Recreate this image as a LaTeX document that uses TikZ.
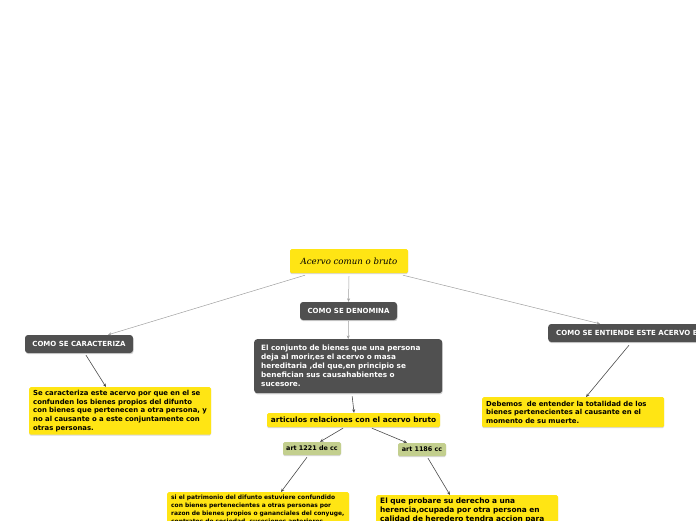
\documentclass[tikz,border=0pt]{standalone}
\usepackage{fontspec}
\setmainfont{DejaVu Sans}
\newfontfamily\rootfont{DejaVu Serif}
\usetikzlibrary{arrows.meta,calc,shadows}
\definecolor{ybox}{HTML}{FFE514}
\definecolor{dbox}{HTML}{505050}
\definecolor{gbox}{HTML}{C3CF8E}
\definecolor{lgray}{HTML}{A0A0A0}
\definecolor{dgray}{HTML}{4A4A4A}
\tikzset{
  darkbox/.style={fill=dbox, rounded corners=3pt, text=white, font=\bfseries\fontsize{7}{9}\selectfont,
    drop shadow={shadow xshift=0.6pt, shadow yshift=-1.2pt, opacity=0.35}},
  yelbox/.style={fill=ybox, rounded corners=1.5pt, text=black,
    drop shadow={shadow xshift=0pt, shadow yshift=-1pt, opacity=0.3}},
  grnbox/.style={fill=gbox, rounded corners=1.5pt, text=black, font=\bfseries\fontsize{6.4}{7}\selectfont,
    drop shadow={shadow xshift=0pt, shadow yshift=-1pt, opacity=0.3}},
  lconn/.style={draw=lgray, line width=0.5pt, -{Stealth[length=3.5pt,width=3pt]}},
  dconn/.style={draw=dgray, line width=0.6pt, -{Stealth[length=3.5pt,width=3pt]}},
}
\begin{document}
\begin{tikzpicture}[x=1pt,y=-1pt]
\useasboundingbox (0,0) rectangle (696,520);
\clip (0,0) rectangle (696,520);

% root
\node[yelbox, minimum width=118pt, minimum height=24pt, inner sep=0pt,
  font=\rootfont\itshape\fontsize{8.6}{10}\selectfont] (root) at (349,261) {Acervo comun o bruto};

% headings
\node[darkbox, minimum width=97pt, minimum height=18pt, inner sep=0pt] (den) at (348.5,311) {COMO SE DENOMINA};
\node[darkbox, minimum width=108pt, minimum height=18pt, inner sep=0pt] (car) at (79,344) {COMO SE CARACTERIZA};
\node[darkbox, anchor=west, minimum height=18pt, inner xsep=8pt, inner ysep=0pt] (ent) at (548,333) {COMO SE ENTIENDE ESTE ACERVO BRUTO};

% definition
\node[darkbox, anchor=north west, text width=174pt, align=left, inner xsep=7pt, inner ysep=4pt,
  minimum height=54pt, font=\bfseries\fontsize{7.3}{9}\selectfont] (def) at (254,339)
  {El conjunto de bienes que una persona\\deja al morir,es el acervo o masa\\hereditaria ,del que,en principio se\\benefician sus causahabientes o\\sucesore.};

% caracteriza text
\node[yelbox, anchor=north west, text width=174pt, align=left, inner xsep=4pt, inner ysep=3pt,
  minimum height=47pt, font=\bfseries\fontsize{6.9}{8.7}\selectfont] (cart) at (29,387)
  {Se caracteriza este acervo por que en el se\\confunden los bienes propios del difunto\\con bienes que pertenecen a otra persona, y\\no al causante o a este conjuntamente con\\otras personas.};

% entiende text
\node[yelbox, anchor=north west, text width=174pt, align=left, inner xsep=4pt, inner ysep=3pt,
  minimum height=30pt, font=\bfseries\fontsize{6.9}{8.5}\selectfont] (entt) at (482,397)
  {Debemos\ \ de entender la totalidad de los\\bienes pertenecientes al causante en el\\momento de su muerte.};

% articulos
\node[yelbox, minimum width=173pt, minimum height=14pt, inner sep=0pt,
  font=\bfseries\fontsize{7.4}{8}\selectfont] (art) at (353.5,420) {articulos relaciones con el acervo bruto};

% green
\node[grnbox, minimum width=58pt, minimum height=13pt, inner sep=0pt] (a1221) at (312,448.5) {art 1221 de cc};
\node[grnbox, minimum width=48pt, minimum height=13pt, inner sep=0pt] (a1186) at (422,449.5) {art 1186 cc};

% bottom texts
\node[yelbox, anchor=north west, text width=174pt, align=left, inner xsep=4pt, inner ysep=2.5pt,
  font=\bfseries\fontsize{5.95}{8}\selectfont] (t1221) at (167,492)
  {si el patrimonio del difunto estuviere confundido\\con bienes pertenecientes a otras personas por\\razon de bienes propios o gananciales del conyuge,\\contratos de sociedad, sucesiones anteriores};
\node[yelbox, anchor=north west, text width=174pt, align=left, inner xsep=4pt, inner ysep=3pt,
  font=\bfseries\fontsize{7.4}{9}\selectfont] (t1186) at (376,495)
  {El que probare su derecho a una\\herencia,ocupada por otra persona en\\calidad de heredero tendra accion para};

% connectors
\draw[lconn] ($(root.south)+(-44,2)$) -- ($(car.north)+(29,0)$);
\draw[lconn] ($(root.south)+(0,3)$) -- (den.north);
\draw[lconn] ($(root.south)+(54,2)$) -- ($(ent.north west)+(52,0)$);
\draw[lconn] ($(den.south)+(0,1)$) -- ($(def.north)+(0,0)$);
\draw[dconn] ($(car.south)+(7,2)$) -- ($(cart.north west)+(77,0)$);
\draw[dconn] ($(ent.south west)+(81,3)$) -- ($(entt.north west)+(104,0)$);
\draw[dconn] ($(def.south)+(4,3)$) -- ($(art.north)+(0.5,0)$);
\draw[dconn] ($(art.south)+(-10.5,1)$) -- ($(a1221.north)+(8,0)$);
\draw[dconn] ($(art.south)+(18.5,1)$) -- ($(a1186.north)+(-15,0)$);
\draw[dconn] ($(a1221.south)+(-5,2)$) -- ($(t1221.north west)+(114,0)$);
\draw[dconn] ($(a1186.south)+(6,2)$) -- ($(t1186.north west)+(74,0)$);
\end{tikzpicture}
\end{document}
